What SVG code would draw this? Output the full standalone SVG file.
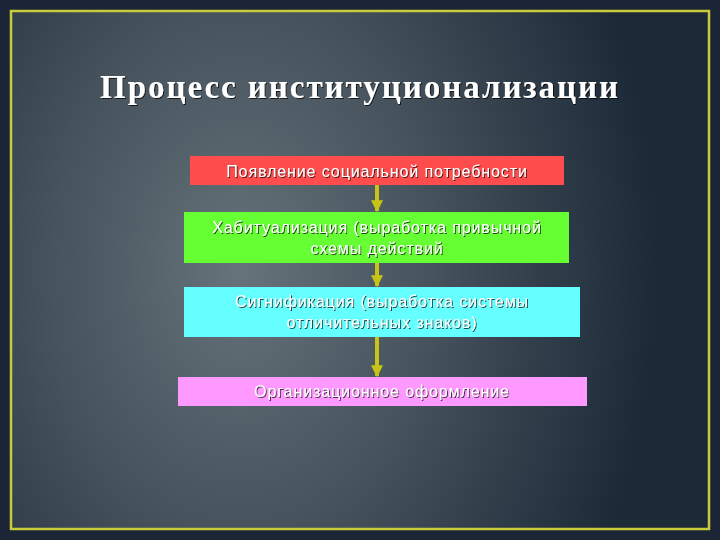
<svg xmlns="http://www.w3.org/2000/svg" width="720" height="540" viewBox="0 0 720 540">
<defs>
<radialGradient id="bg" cx="240" cy="270" r="520" gradientUnits="userSpaceOnUse" gradientTransform="translate(240 270) scale(0.8 1.1) translate(-240 -270)">
<stop offset="0" stop-color="#67737a"/>
<stop offset="0.45" stop-color="#47535d"/>
<stop offset="1" stop-color="#1c2a38"/>
</radialGradient>
<marker id="ah" viewBox="0 0 10 10" refX="9" refY="5" markerWidth="3" markerHeight="3" orient="auto" markerUnits="strokeWidth">
<path d="M0,0 L10,5 L0,10 z" fill="#c8c417"/>
</marker>
<filter id="sh" x="-5%" y="-20%" width="110%" height="140%">
<feDropShadow dx="1" dy="1" stdDeviation="0.7" flood-color="#000" flood-opacity="0.7"/>
</filter>
</defs>
<style>
.t{font-family:"Liberation Sans",Arial,sans-serif;font-size:16px;fill:#fff;text-anchor:middle;letter-spacing:0.9px}
.title{font-family:"Liberation Serif","Times New Roman",serif;font-size:33px;font-weight:bold;fill:#fff;text-anchor:middle}
.c{stroke:#c8c417;stroke-width:4;fill:none}
</style>
<rect width="720" height="540" fill="#1b2535"/>
<rect x="11" y="11" width="698" height="518" fill="url(#bg)" stroke="#c9cc3a" stroke-width="2.5"/>
<text class="title" x="359" y="98" textLength="518" lengthAdjust="spacing" filter="url(#sh)">Процесс институционализации</text>
<g id="connectors">
<line class="c" x1="377" y1="185" x2="377" y2="211" marker-end="url(#ah)"/>
<line class="c" x1="377" y1="263" x2="377" y2="286" marker-end="url(#ah)"/>
<line class="c" x1="377" y1="337" x2="377" y2="376" marker-end="url(#ah)"/>
</g>
<g id="n1">
<rect x="190" y="156" width="374" height="29" fill="#ff4d4d"/>
<text class="t" x="377" y="177" filter="url(#sh)">Появление социальной потребности</text>
</g>
<g id="n2">
<rect x="184" y="212" width="385" height="51" fill="#66ff33"/>
<text class="t" x="377" y="233" filter="url(#sh)">Хабитуализация (выработка привычной</text>
<text class="t" x="377" y="254" filter="url(#sh)">схемы действий</text>
</g>
<g id="n3">
<rect x="184" y="287" width="396" height="50" fill="#66ffff"/>
<text class="t" x="382" y="307" filter="url(#sh)">Сигнификация (выработка системы</text>
<text class="t" x="382" y="328" filter="url(#sh)">отличительных знаков)</text>
</g>
<g id="n4">
<rect x="178" y="377" width="409" height="29" fill="#ff99ff"/>
<text class="t" x="382" y="397" filter="url(#sh)">Организационное оформление</text>
</g>
</svg>
